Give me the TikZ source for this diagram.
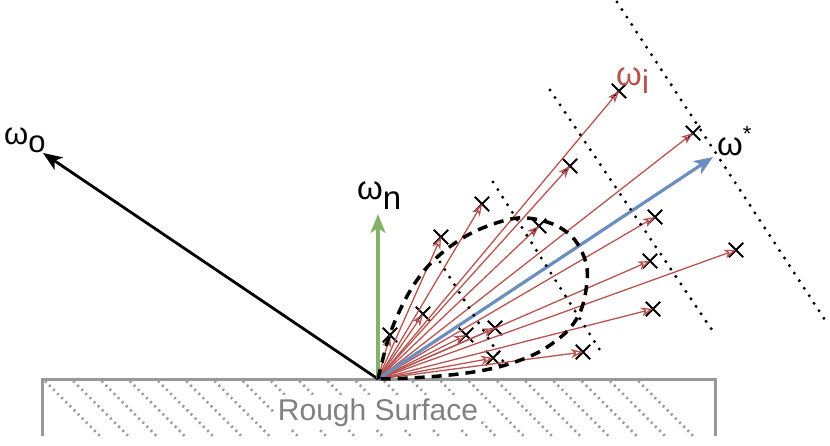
\documentclass[tikz,border=0pt]{standalone}
\usepackage{fontspec}
\setmainfont{Liberation Sans}
\usetikzlibrary{arrows.meta,shapes.misc}
\definecolor{redc}{HTML}{B85450}
\definecolor{bluec}{HTML}{6C8EBF}
\definecolor{greenc}{HTML}{82B366}
\definecolor{surf}{HTML}{999999}
\definecolor{surftext}{HTML}{808080}
\begin{document}
\begin{tikzpicture}[x=1pt,y=-1pt,
 xmark/.style={cross out,draw=black,line width=1.9pt,minimum size=12.5pt,inner sep=0pt},
 rayarrow/.style={draw=redc,line width=1.3pt,-{Stealth[open,length=12pt,width=9pt,inset=3.5pt]}},
 mainarrow/.style={line width=2.8pt,-{Stealth[length=19pt,width=15pt,inset=5pt]}},
 dotline/.style={line width=3.3pt,dash pattern=on 0pt off 9pt,line cap=round},
 lobe/.style={line width=3.5pt,dash pattern=on 10pt off 7pt},
 hatchline/.style={draw=surf,line width=2.6pt,dash pattern=on 2pt off 3.8pt},
 lbl/.style={inner sep=0pt,anchor=base west,font=\fontsize{33}{33}\selectfont}
]
\useasboundingbox (0,0) rectangle (830,445);
% surface
\begin{scope}
\clip (42,379) rectangle (715,436);
\foreach \i in {0,...,21} \draw[hatchline] ({45+28.25*\i},381) -- ++(56,56);
\end{scope}
\draw[surf,line width=3pt] (42,436) -- (42,379) -- (715,379) -- (715,436);
\node[fill=white,inner sep=3pt,text=surftext,font=\fontsize{30}{30}\selectfont,anchor=base] (rs) at (378,420) {Rough Surface};

\coordinate (O) at (378,379);
% crosses
\node[xmark] (x1) at (619,91) {};
\node[xmark] (x2) at (693,133) {};
\node[xmark] (x3) at (570,166) {};
\node[xmark] (x4) at (482,204) {};
\node[xmark] (x5) at (441,237) {};
\node[xmark] (x6) at (539,226) {};
\node[xmark] (x7) at (655,217) {};
\node[xmark] (x8) at (650,261) {};
\node[xmark] (x9) at (736,250) {};
\node[xmark] (x10) at (653,309) {};
\node[xmark] (x11) at (583,352) {};
\node[xmark] (x12) at (423,314) {};
\node[xmark] (x13) at (390,335) {};
\node[xmark] (x14) at (466,335) {};
\node[xmark] (x15) at (495,328) {};
\node[xmark] (x16) at (493,358) {};
% red rays
\foreach \k in {1,...,16} \draw[rayarrow] (O) -- (x\k.center);
% main arrows
\coordinate (tipo) at (43,153);
\coordinate (tipn) at (378,214);
\coordinate (tips) at (713,157);
\draw[mainarrow,draw=bluec,fill=bluec,line width=3.2pt] (O) -- (tips);
\draw[mainarrow,draw=black,fill=black] (O) -- (tipo);
\draw[mainarrow,draw=greenc,fill=greenc,line width=3.2pt] (O) -- (tipn);
% dotted lines
\coordinate (d1a) at (440,262); \coordinate (d1b) at (506,366);
\coordinate (d2a) at (493,182); \coordinate (d2b) at (603,355);
\coordinate (d3a) at (550,90);  \coordinate (d3b) at (712,330);
\coordinate (d4a) at (617,2);   \coordinate (d4b) at (827,323);
\draw[dotline] (d1a) -- (d1b);
\draw[dotline] (d2a) -- (d2b);
\draw[dotline] (d3a) -- (d3b);
\draw[dotline] (d4a) -- (d4b);
% lobe
\draw[lobe] plot[smooth,tension=0.6] coordinates {(378,379) (388,340) (400,310) (415,283) (433,261) (458,241) (485,227) (518,218) (547,222) (568,233) (580,248) (587,268) (586,290) (581,310) (571,327) (557,340) (537,353) (512,363) (485,370) (450,375) (410,378) (378,379)};
% labels
\node[lbl,font=\fontsize{31}{31}\selectfont] (lo) at (4,144) {ω\raisebox{-8pt}{o}};
\node[lbl] (ln) at (357,199) {ω\raisebox{-10pt}{n}};
\node[lbl,text=redc] (li) at (616,85) {ω\raisebox{-8pt}{i}};
\node[lbl] (ls) at (717,155) {ω\raisebox{14pt}{\fontsize{22}{22}\selectfont *}};
\end{tikzpicture}
\end{document}
